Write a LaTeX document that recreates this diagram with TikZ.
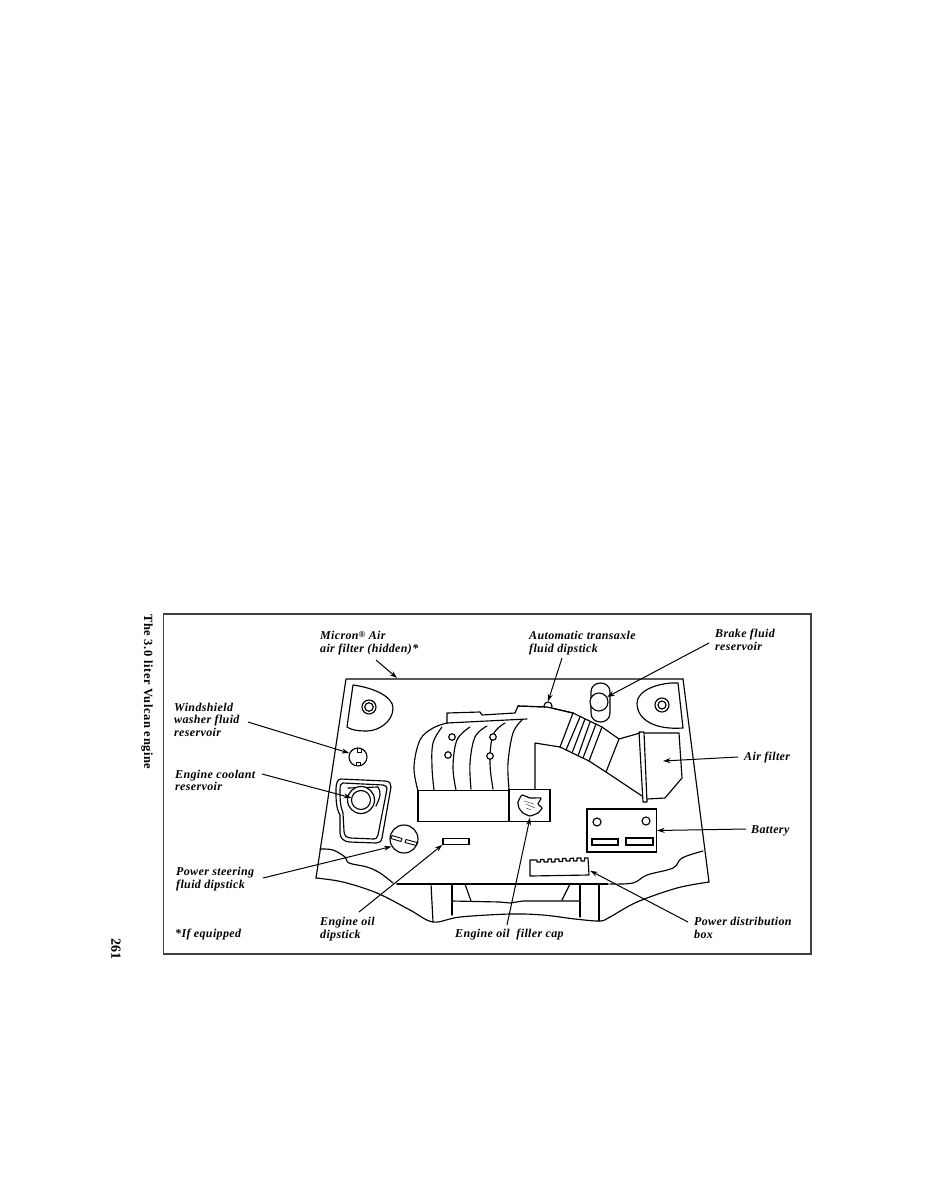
\documentclass[tikz,border=0pt]{standalone}
\usepackage{fontspec}
\setmainfont{Liberation Serif}
\newfontfamily\lblfont[LetterSpace=3,BoldItalicFont={Liberation Serif Bold Italic}]{Liberation Serif}
\newfontfamily\sidefont[LetterSpace=4.5]{Liberation Serif}
\usetikzlibrary{arrows.meta}
\tikzset{
  ln/.style={draw=black,line width=1.15pt,line join=round,line cap=round},
  thinln/.style={draw=black,line width=.9pt,line join=round},
  lead/.style={draw=black,line width=1pt,-{Stealth[length=7.5pt,width=5pt]}},
  lbl/.style={anchor=west,inner sep=0pt,align=left,font=\fontsize{12}{12.6}\lblfont\bfseries\itshape},
  side/.style={inner sep=0pt,rotate=-90,font=\fontsize{12.5}{14}\sidefont\bfseries},
  round/.style={circle,draw=black,line width=1.15pt,inner sep=0pt,fill=white},
  box/.style={rectangle,draw=black,line width=1.15pt,inner sep=0pt,fill=white},
  ghost/.style={inner sep=0pt,minimum size=0pt},
}
\begin{document}
\begin{tikzpicture}[x=1pt,y=-1pt]
\useasboundingbox (0,0) rectangle (927,1200);
% frame
\node[rectangle,draw=black!75,line width=1.3pt,inner sep=0pt,minimum width=647.5pt,minimum height=340pt] (frame) at (487.25,784) {};
% hood outline
\draw[ln] (683,679) -- (346,679) -- (316,878);
\draw[ln] plot[smooth,tension=.55] coordinates {(316,878) (343,882) (377,893) (410,910) (433,922) (460,917) (510,914) (543,915) (575,919) (600,921) (610,917) (637,902) (677,888) (709,882)};
\draw[ln] (683,679) -- (709,882);
% horizontal fire wall
\draw[ln,line width=1.6pt] (397,884) -- (608,884);
% wavy fender lines
\draw[ln] plot[smooth,tension=.6] coordinates {(320,849) (333,850) (345,857) (349,863) (367,867) (380,873) (393,883)};
\draw[ln] plot[smooth,tension=.6] coordinates {(610,884) (633,883) (647,875) (673,868) (682,858) (703,851)};
% struts
\draw[ln] (431,884) -- (433,922);
\draw[ln] (452,884) -- (452,915);
\draw[ln] (465,884) -- (471,901);
\draw[ln] (452,901) -- (500,902) -- (510,903) -- (523,901) -- (580,901);
\draw[ln] (570,884) -- (562,900);
\draw[ln] (580,884) -- (580,917);
\draw[ln] (599,884) -- (599,921);
% strut mounts
\draw[ln] (353,685) .. controls (375,688) and (393,697) .. (393,708) .. controls (393,722) and (378,731) .. (367,731) .. controls (358,731) and (351,730) .. (347,727) -- cycle;
\node[round,minimum size=14pt] (mountLa) at (369,707) {};
\node[round,minimum size=8.5pt] (mountLb) at (369,707) {};
\draw[ln] (678,683) .. controls (660,682) and (637,690) .. (637,703) .. controls (637,720) and (655,730) .. (683,728) -- cycle;
\node[round,minimum size=14pt] (mountRa) at (662,705) {};
\node[round,minimum size=8pt] (mountRb) at (662,705) {};
% washer
\node[round,minimum size=18pt] (washer) at (358,757) {};
\draw[thinln] (357,748) -- (357,752) -- (361,752) -- (361,748);
\draw[thinln] (356,766) -- (356,762.5) -- (360,762.5) -- (360,766);
% coolant reservoir
\draw[ln] (341,779) -- (385,781) .. controls (390,781) and (391,784) .. (391,787) -- (382,838) .. controls (381,842) and (379,843) .. (376,843) -- (350,842) .. controls (344,842) and (340,838) .. (340,833) -- (340,815) .. controls (336,808) and (336,800) .. (336,790) .. controls (336,782) and (338,779) .. (341,779) -- cycle;
\draw[ln] (343,783) -- (383,785) .. controls (386,785) and (387,787) .. (387,789) -- (378,835) .. controls (377,838) and (376,839) .. (374,839) -- (351,838) .. controls (346,838) and (344,835) .. (344,831) -- (343,813) .. controls (340,806) and (340,798) .. (340,790) .. controls (340,785) and (341,783) .. (343,783) -- cycle;
\draw[ln] (348,788) -- (378,787) (378,787) .. controls (381,792) and (381,796) .. (376,806);
\node[round,minimum size=27pt] (coolOuter) at (361,800) {};
\node[round,minimum size=19pt] (cool) at (361,800) {};
% power steering dipstick
\node[round,minimum size=28pt] (psdip) at (404,839) {};
\draw[thinln] (392,835.5) -- (402,838.5) -- (401,841.5) -- (391,838.5) -- cycle;
\draw[thinln] (406,839.5) -- (417,842.5) -- (416,845.5) -- (405,842.5) -- cycle;
% oil dipstick
\node[box,minimum width=26pt,minimum height=5.5pt] (oildip) at (456,841.5) {};
% intake plenum
\draw[ln] plot[smooth,tension=.6] coordinates {(418,791) (414,767) (420,740) (433,728) (447,723)};
\draw[ln] (447,723) -- (527,719);
\draw[ln] (447,723) -- (447,713) -- (480,712) -- (482,715) -- (515,713) -- (518,706) -- (547,707) -- (573,713);
\draw[ln] (535,790) -- (535,743) -- (560,747);
\draw[ln] plot[smooth,tension=.6] coordinates {(442,727) (433,743) (432,767) (434,790)};
\draw[ln] plot[smooth,tension=.6] coordinates {(470,727) (457,740) (453,767) (456,790)};
\draw[ln] plot[smooth,tension=.6] coordinates {(487,726) (475,737) (470,763) (471,789)};
\draw[ln] plot[smooth,tension=.6] coordinates {(505,723) (493,735) (490,763) (493,789)};
\draw[ln] plot[smooth,tension=.6] coordinates {(522,720) (513,733) (508,763) (509,789)};
\node[round,minimum size=6.5pt] (hole1) at (452,737) {};
\node[round,minimum size=6.5pt] (hole2) at (448,755) {};
\node[round,minimum size=6.5pt] (hole3) at (493,737) {};
\node[round,minimum size=6.5pt] (hole4) at (490,756) {};
\node[box,minimum width=91pt,minimum height=31pt] (plenum) at (463.5,806) {};
\node[box,minimum width=41pt,minimum height=32pt] (capblock) at (529.5,805.5) {};
% filler cap
\draw[ln] plot[smooth cycle,tension=.25] coordinates {(522,795) (530,798) (541,798) (538,804) (542,808) (538,813) (530,816) (523,813) (519,808) (518,802)};
\node[ghost,circle,minimum size=24pt] (cap) at (530,805.5) {};
\draw[line width=.5pt,black!70] (524,801) -- (534,804) (526,804) -- (535,808) (526,808) -- (531,810);
% transaxle dipstick
\node[round,minimum size=8pt] (trans) at (548,706) {};
\fill[white] (542,707.5) rectangle (554,712);
\draw[ln] (518,706) -- (547,707) -- (573,713);
% bellows
\draw[ln] (573,713) -- (602,727) -- (619,739) -- (606,772);
\draw[ln] (560,747) -- (589,761) -- (606,772);
\draw[ln] (573,713) -- (560,747);
\draw[ln] (580,717) -- (566,750);
\draw[ln] (585,719) -- (572,753);
\draw[ln] (590,722) -- (578,756);
\draw[ln] (596,724) -- (583,758);
\draw[ln] (602,727) -- (589,761);
\draw[ln] (619,739) -- (640,733);
\draw[ln] (606,772) -- (642,796);
% air filter
\draw[ln] (645,733) -- (679,733) -- (682,778) -- (665,798) -- (647,799);
\draw[ln] (639,732) -- (644,732) -- (647,802) -- (643,802) -- cycle;
\coordinate (airfilter) at (663,761);
% brake reservoir
\draw[ln] (591,692) .. controls (591,680) and (610,680) .. (610,692) -- (610,713) .. controls (610,725) and (591,725) .. (591,713) -- cycle;
\node[round,minimum size=18pt] (brake) at (599,702) {};
% battery
\node[box,minimum width=69.5pt,minimum height=43pt] (battery) at (621.75,830.5) {};
\node[round,minimum size=8pt] (batA) at (597,822) {};
\node[round,minimum size=8pt] (batB) at (646,821) {};
\node[box,minimum width=26pt,minimum height=6pt] (batC) at (605,842) {};
\node[box,minimum width=27pt,minimum height=7pt] (batD) at (639.5,841.5) {};
% power distribution box
\draw[ln] (530,860) -- (530,876) -- (589,875) -- (588,858)
  -- (584.5,858) -- (584.5,861) -- (581,861) -- (581,858)
  -- (577,858) -- (577,861) -- (573.5,861) -- (573.5,858)
  -- (570,858.5) -- (570,861) -- (566,861) -- (566,858.5)
  -- (562.5,858.5) -- (562.5,861.5) -- (559,861.5) -- (559,859)
  -- (555,859) -- (555,862) -- (551.5,862) -- (551.5,859)
  -- (548,859) -- (548,862) -- (544,862) -- (544,859.5)
  -- (540.5,859.5) -- (540.5,862) -- (537,862) -- (537,860) -- cycle;
\node[ghost,rectangle,minimum width=61pt,minimum height=18pt] (pdb) at (559.5,867) {};
\coordinate (hoodtop) at (397,678);
% labels
\node[lbl] (lmicron) at (320,643) {Micron\raisebox{.3ex}{\scalebox{.75}{®}} Air\\air filter (hidden)*};
\node[lbl] (ltrans) at (529,643) {Automatic transaxle\\fluid dipstick};
\node[lbl] (lbrake) at (715,640) {Brake fluid\\reservoir};
\node[lbl] (lwasher) at (174,719.5) {Windshield\\washer fluid\\reservoir};
\node[lbl] (lcool) at (175,780.5) {Engine coolant\\reservoir};
\node[lbl] (lair) at (744,758) {Air filter};
\node[lbl] (lbat) at (751,831) {Battery};
\node[lbl] (lps) at (176,879) {Power steering\\fluid dipstick};
\node[lbl] (loil) at (320,929) {Engine oil\\dipstick};
\node[lbl] (lcap) at (455,935) {Engine oil\ \ filler cap};
\node[lbl] (lpdb) at (694,928) {Power distribution\\box};
\node[lbl] (lequip) at (175,935) {*If equipped};
\node[side,anchor=west] (ltitle) at (147,614) {The 3.0 liter Vulcan engine};
\node[side,anchor=west,font=\fontsize{14}{15}\selectfont\bfseries] (lpage) at (116,938) {261};
% leaders
\draw[lead] ([shift={(56,17)}]lmicron.west) -- (hoodtop);
\draw[lead] ([shift={(33,15)}]ltrans.west) -- (trans.north);
\draw[lead] ([shift={(-6,3)}]lbrake.west) -- (brake.32);
\draw[lead] ([shift={(74,2.5)}]lwasher.west) -- (washer.156);
\draw[lead] ([shift={(87,-6.5)}]lcool.west) -- (cool.167);
\draw[lead] ([shift={(87,-1)}]lps.west) -- (psdip.211);
\draw[lead] ([shift={(39,-17)}]loil.west) -- (oildip.south west);
\draw[lead] ([shift={(52,-10)}]lcap.west) -- (cap.south);
\draw[lead] ([shift={(-6,-6)}]lpdb.west) -- (pdb.-7);
\draw[lead] ([shift={(-6,-1)}]lair.west) -- (airfilter);
\draw[lead] ([shift={(-5,-2)}]lbat.west) -- (battery.east);
\end{tikzpicture}
\end{document}
